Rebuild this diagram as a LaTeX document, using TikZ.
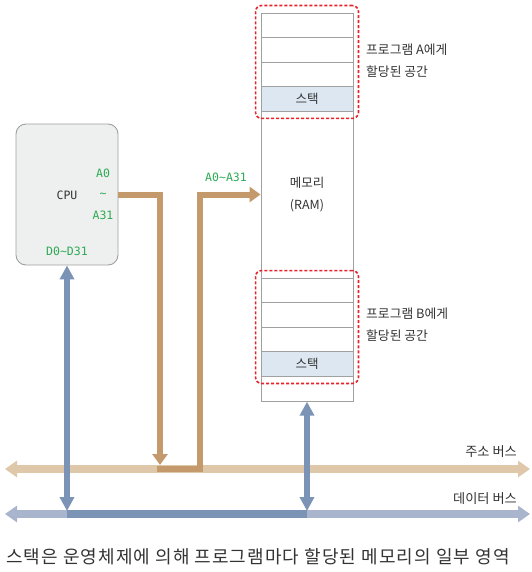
\documentclass[tikz,border=0pt]{standalone}
\usepackage{fontspec}
\setmainfont{Noto Sans CJK KR}
\newfontfamily\monof{DejaVu Sans Mono}
\newfontfamily\capf{Noto Sans CJK KR}[LetterSpace=6]
\usetikzlibrary{arrows.meta,fit}
\definecolor{tanc}{HTML}{C49A6C}
\definecolor{abusc}{HTML}{DFC7AA}
\definecolor{dbusc}{HTML}{A8B5CD}
\definecolor{dbluec}{HTML}{7B93B4}
\definecolor{greenc}{HTML}{2EAA55}
\definecolor{redc}{HTML}{E8222A}
\definecolor{stackc}{HTML}{DDE7F2}
\definecolor{linec}{HTML}{A0A0A0}
\definecolor{cpuc}{HTML}{EEF0EF}
\definecolor{textc}{HTML}{333333}
\begin{document}
\begin{tikzpicture}[x=1pt,y=-1pt,
  every node/.style={text=textc, inner sep=0pt},
  cell/.style={draw=linec, line width=0.9pt, minimum width=92pt, minimum height=24.5pt, font=\fontsize{12.5}{14}\selectfont},
  stackcell/.style={cell, fill=stackc},
  region/.style={draw=redc, line width=1.6pt, dash pattern=on 3pt off 2pt, rounded corners=6pt, inner xsep=5pt, inner ysep=7pt},
  lbl/.style={align=left, font=\fontsize{12.8}{22}\selectfont},
  grn/.style={text=greenc, font=\monof\fontsize{11.5}{13}\selectfont},
  cpubox/.style={draw=linec, fill=cpuc, line width=0.9pt, rounded corners=10pt, minimum width=102pt, minimum height=141pt},
  tanline/.style={draw=tanc, line width=6pt, line join=miter},
  tanarrow/.style={tanline, -{Triangle[width=15pt,length=11pt]}},
  busline/.style={line width=8pt, {Triangle[width=16pt,length=12pt]}-{Triangle[width=16pt,length=12pt]}},
  bluearrow/.style={draw=dbluec, line width=6pt, {Triangle[width=14pt,length=14pt]}-{Triangle[width=14pt,length=14pt]}},
  buslbl/.style={font=\fontsize{13.2}{14}\selectfont, anchor=east}
]
\useasboundingbox (0,0) rectangle (531,572);

% memory column
\node[cell] (a1) at (307,25.25) {};
\node[cell] (a2) at (307,49.75) {};
\node[cell] (a3) at (307,74.25) {};
\node[stackcell] (sa) at (307,98.75) {스택};
\node[cell, minimum height=167pt, align=center, font=\fontsize{12.5}{22}\selectfont] (mid) at (307,194.5) {메모리\\(RAM)};
\node[cell] (b1) at (307,290.25) {};
\node[cell] (b2) at (307,314.75) {};
\node[cell] (b3) at (307,339.25) {};
\node[stackcell] (sb) at (307,363.75) {스택};
\node[cell] (mlast) at (307,389) {};

\node[region, fit=(a1)(sa)] (ra) {};
\node[region, fit=(b1)(sb)] (rb) {};

\node[lbl, anchor=west] (la) at (366,61) {프로그램 A에게\\할당된 공간};
\node[lbl, anchor=west] (lb) at (366,325) {프로그램 B에게\\할당된 공간};

% CPU
\node[cpubox] (cpu) at (67,194.5) {};
\node[font=\monof\fontsize{11.5}{13}\selectfont] (cputxt) at (67,195) {CPU};
\node[grn] (ga0) at (103,173) {A0};
\node[grn] (gt) at (103,195) {\char`\~};
\node[grn] (ga31) at (103,215) {A31};
\node[grn] (gd) at (67,251) {D0\char`\~D31};
\node[grn] (gaddr) at (226,177) {A0\char`\~A31};

% buses
\coordinate (abL) at (5,469);
\coordinate (abR) at (530,469);
\coordinate (dbL) at (5,514);
\coordinate (dbR) at (530,514);
\draw[busline, draw=abusc, fill=abusc] (abL) -- (abR);
\draw[busline, draw=dbusc, fill=dbusc] (dbL) -- (dbR);
\node[buslbl] (lab) at (517,452) {주소 버스};
\node[buslbl] (ldb) at (517,499) {데이터 버스};

% address path
\coordinate (aIn) at (160,465);
\coordinate (aJ) at (157,469);
\coordinate (aK) at (200,469);
\draw[tanarrow] (cpu.east) -| (aIn);
\draw[tanarrow] (aJ) -- (aK) |- (mid.west);

% data path
\coordinate (dL) at (67,514);
\coordinate (dR) at (307,514);
\coordinate (dLt) at (67,511);
\coordinate (dRt) at (307,511);
\draw[draw=dbluec, line width=8pt] (dL) -- (dR);
\draw[bluearrow, fill=dbluec] (cpu.south) -- (dLt);
\draw[bluearrow, fill=dbluec] (mlast.south) -- (dRt);

% caption
\node[anchor=west, font=\capf\fontsize{18}{20}\selectfont] (cap) at (6,557) {스택은 운영체제에 의해 프로그램마다 할당된 메모리의 일부 영역};
\end{tikzpicture}
\end{document}
